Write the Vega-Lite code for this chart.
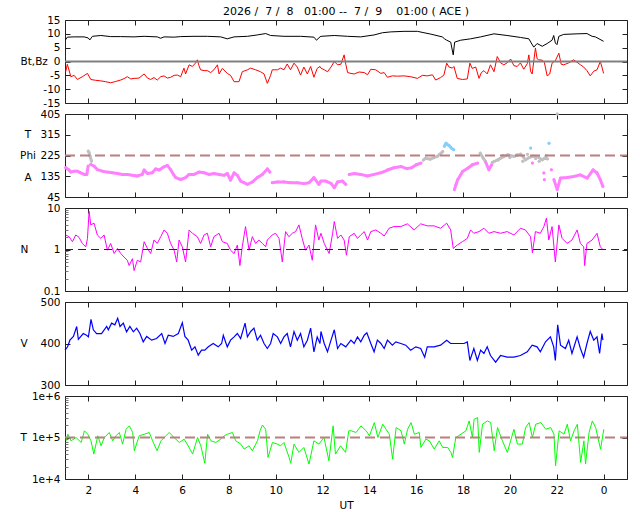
{
"$schema":"https://vega.github.io/schema/vega-lite/v6.json",
"background":"white",
"padding":{"left":19,"top":5,"right":5,"bottom":5},
"spacing":11,
"bounds":"flush",
"resolve":{"scale":{"color":"independent"}},
"config":{
 "view":{"stroke":"#222","strokeWidth":1},
 "font":"DejaVu Sans",
 "axis":{"domain":false,"grid":false,"tickColor":"#222","tickSize":5,"offset":-5,"labelPadding":5,"labelFont":"DejaVu Sans","labelFontSize":10.5,"labelColor":"#000","labelFlush":false,"labelOverlap":false,"labelBound":false,"titleFont":"DejaVu Sans","titleFontSize":10.5,"titleFontWeight":"normal","titleColor":"#000"},
 "axisLeft":{"titleAngle":0,"titleAlign":"left","titleBaseline":"middle","titleX":-50,"titleY":41.5}
},
"datasets":{
"one":[{}],
"b":[
{"h":1.03,"v":7.9,"s":"t"},{"h":1.10,"v":8.8,"s":"t"},{"h":1.39,"v":8.9,"s":"t"},{"h":1.82,"v":8.9,"s":"t"},{"h":1.99,"v":8.5,"s":"t"},{"h":2.06,"v":7.8,"s":"t"},{"h":2.17,"v":9.1,"s":"t"},{"h":2.53,"v":9.4,"s":"t"},{"h":2.95,"v":9.0,"s":"t"},{"h":3.38,"v":9.0,"s":"t"},{"h":3.95,"v":8.9,"s":"t"},{"h":4.38,"v":9.1,"s":"t"},{"h":4.94,"v":8.9,"s":"t"},{"h":5.09,"v":8.4,"s":"t"},{"h":5.23,"v":8.9,"s":"t"},{"h":5.66,"v":8.8,"s":"t"},{"h":5.94,"v":9.0,"s":"t"},{"h":6.51,"v":9.1,"s":"t"},{"h":7.08,"v":9.1,"s":"t"},{"h":7.65,"v":8.9,"s":"t"},{"h":7.93,"v":8.2,"s":"t"},{"h":8.22,"v":8.9,"s":"t"},{"h":8.79,"v":9.1,"s":"t"},{"h":9.21,"v":9.6,"s":"t"},{"h":9.57,"v":10.1,"s":"t"},{"h":9.78,"v":9.4,"s":"t"},{"h":10.35,"v":9.1,"s":"t"},{"h":11.06,"v":9.1,"s":"t"},{"h":11.63,"v":8.8,"s":"t"},{"h":11.74,"v":7.7,"s":"t"},{"h":11.89,"v":8.9,"s":"t"},{"h":11.93,"v":9.1,"s":"t"},{"h":12.50,"v":9.4,"s":"t"},{"h":13.07,"v":9.1,"s":"t"},{"h":13.63,"v":8.9,"s":"t"},{"h":14.20,"v":9.6,"s":"t"},{"h":14.56,"v":10.4,"s":"t"},{"h":14.91,"v":10.7,"s":"t"},{"h":15.48,"v":10.9,"s":"t"},{"h":16.05,"v":10.9,"s":"t"},{"h":16.33,"v":10.4,"s":"t"},{"h":16.62,"v":9.9,"s":"t"},{"h":17.11,"v":8.9,"s":"t"},{"h":17.21,"v":8.2,"s":"t"},{"h":17.30,"v":7.7,"s":"t"},{"h":17.47,"v":7.0,"s":"t"},{"h":17.58,"v":2.4,"s":"t"},{"h":17.64,"v":7.0,"s":"t"},{"h":17.90,"v":7.7,"s":"t"},{"h":18.32,"v":8.2,"s":"t"},{"h":18.75,"v":8.9,"s":"t"},{"h":19.32,"v":10.0,"s":"t"},{"h":19.88,"v":9.4,"s":"t"},{"h":20.45,"v":8.7,"s":"t"},{"h":20.81,"v":8.2,"s":"t"},{"h":20.91,"v":6.7,"s":"t"},{"h":21.02,"v":5.2,"s":"t"},{"h":21.16,"v":6.5,"s":"t"},{"h":21.38,"v":5.5,"s":"t"},{"h":21.59,"v":6.5,"s":"t"},{"h":21.80,"v":7.7,"s":"t"},{"h":21.87,"v":9.4,"s":"t"},{"h":21.94,"v":6.7,"s":"t"},{"h":22.01,"v":6.1,"s":"t"},{"h":22.09,"v":9.1,"s":"t"},{"h":22.30,"v":9.8,"s":"t"},{"h":22.87,"v":10.0,"s":"t"},{"h":23.29,"v":10.1,"s":"t"},{"h":23.51,"v":9.1,"s":"t"},{"h":23.65,"v":8.9,"s":"t"},{"h":24.00,"v":7.3,"s":"t"},
{"h":1.03,"v":-3.7,"s":"z"},{"h":1.10,"v":-1.0,"s":"z"},{"h":1.25,"v":-5.5,"s":"z"},{"h":1.39,"v":-5.0,"s":"z"},{"h":1.53,"v":-6.5,"s":"z"},{"h":1.74,"v":-5.5,"s":"z"},{"h":1.96,"v":-4.3,"s":"z"},{"h":2.10,"v":-6.5,"s":"z"},{"h":2.31,"v":-6.8,"s":"z"},{"h":2.53,"v":-7.0,"s":"z"},{"h":2.74,"v":-7.3,"s":"z"},{"h":2.95,"v":-7.7,"s":"z"},{"h":3.17,"v":-7.2,"s":"z"},{"h":3.38,"v":-6.7,"s":"z"},{"h":3.52,"v":-6.2,"s":"z"},{"h":3.66,"v":-5.5,"s":"z"},{"h":3.81,"v":-6.3,"s":"z"},{"h":3.95,"v":-6.1,"s":"z"},{"h":4.16,"v":-6.0,"s":"z"},{"h":4.38,"v":-4.5,"s":"z"},{"h":4.52,"v":-6.0,"s":"z"},{"h":4.66,"v":-6.5,"s":"z"},{"h":4.80,"v":-5.8,"s":"z"},{"h":4.94,"v":-6.7,"s":"z"},{"h":5.09,"v":-5.5,"s":"z"},{"h":5.23,"v":-5.2,"s":"z"},{"h":5.37,"v":-6.0,"s":"z"},{"h":5.51,"v":-5.7,"s":"z"},{"h":5.66,"v":-5.0,"s":"z"},{"h":5.80,"v":-4.9,"s":"z"},{"h":5.94,"v":-5.5,"s":"z"},{"h":6.08,"v":-2.4,"s":"z"},{"h":6.15,"v":-4.5,"s":"z"},{"h":6.30,"v":-1.2,"s":"z"},{"h":6.44,"v":-1.8,"s":"z"},{"h":6.58,"v":-0.5,"s":"z"},{"h":6.65,"v":0.6,"s":"z"},{"h":6.72,"v":-1.5,"s":"z"},{"h":6.79,"v":-3.0,"s":"z"},{"h":6.94,"v":-3.3,"s":"z"},{"h":7.08,"v":-3.3,"s":"z"},{"h":7.22,"v":-4.0,"s":"z"},{"h":7.36,"v":-3.0,"s":"z"},{"h":7.51,"v":-1.2,"s":"z"},{"h":7.58,"v":-4.5,"s":"z"},{"h":7.72,"v":-2.5,"s":"z"},{"h":7.93,"v":-4.3,"s":"z"},{"h":8.07,"v":-5.0,"s":"z"},{"h":8.22,"v":-7.3,"s":"z"},{"h":8.43,"v":-7.3,"s":"z"},{"h":8.57,"v":-3.7,"s":"z"},{"h":8.79,"v":-3.0,"s":"z"},{"h":8.93,"v":-2.4,"s":"z"},{"h":9.14,"v":-3.0,"s":"z"},{"h":9.35,"v":-3.7,"s":"z"},{"h":9.50,"v":-4.5,"s":"z"},{"h":9.64,"v":-7.9,"s":"z"},{"h":9.78,"v":-5.0,"s":"z"},{"h":9.85,"v":-3.0,"s":"z"},{"h":10.07,"v":-3.0,"s":"z"},{"h":10.21,"v":-2.4,"s":"z"},{"h":10.35,"v":-3.0,"s":"z"},{"h":10.49,"v":-0.9,"s":"z"},{"h":10.63,"v":-3.0,"s":"z"},{"h":10.78,"v":-0.6,"s":"z"},{"h":10.92,"v":-2.0,"s":"z"},{"h":11.06,"v":-4.9,"s":"z"},{"h":11.20,"v":-2.0,"s":"z"},{"h":11.35,"v":-4.5,"s":"z"},{"h":11.49,"v":-1.8,"s":"z"},{"h":11.63,"v":-5.7,"s":"z"},{"h":11.77,"v":-2.5,"s":"z"},{"h":11.89,"v":-1.8,"s":"z"},{"h":11.93,"v":-2.4,"s":"z"},{"h":12.07,"v":-3.0,"s":"z"},{"h":12.21,"v":-3.7,"s":"z"},{"h":12.36,"v":-2.0,"s":"z"},{"h":12.50,"v":0.0,"s":"z"},{"h":12.64,"v":-1.2,"s":"z"},{"h":12.78,"v":-1.0,"s":"z"},{"h":12.92,"v":2.4,"s":"z"},{"h":12.99,"v":-1.0,"s":"z"},{"h":13.07,"v":-4.0,"s":"z"},{"h":13.21,"v":-4.3,"s":"z"},{"h":13.35,"v":-4.5,"s":"z"},{"h":13.56,"v":-3.8,"s":"z"},{"h":13.78,"v":-4.0,"s":"z"},{"h":13.92,"v":-4.8,"s":"z"},{"h":14.06,"v":-2.8,"s":"z"},{"h":14.27,"v":-3.0,"s":"z"},{"h":14.49,"v":-4.3,"s":"z"},{"h":14.63,"v":-4.0,"s":"z"},{"h":14.77,"v":-5.7,"s":"z"},{"h":14.98,"v":-5.2,"s":"z"},{"h":15.20,"v":-5.3,"s":"z"},{"h":15.48,"v":-5.2,"s":"z"},{"h":15.76,"v":-5.5,"s":"z"},{"h":16.05,"v":-6.1,"s":"z"},{"h":16.26,"v":-5.0,"s":"z"},{"h":16.47,"v":-5.2,"s":"z"},{"h":16.69,"v":-4.8,"s":"z"},{"h":16.83,"v":-6.7,"s":"z"},{"h":17.04,"v":-5.8,"s":"z"},{"h":17.18,"v":-4.9,"s":"z"},{"h":17.30,"v":-0.6,"s":"z"},{"h":17.40,"v":-2.0,"s":"z"},{"h":17.54,"v":-2.4,"s":"z"},{"h":17.61,"v":-1.8,"s":"z"},{"h":17.75,"v":-6.1,"s":"z"},{"h":17.97,"v":-6.5,"s":"z"},{"h":18.18,"v":-6.3,"s":"z"},{"h":18.29,"v":-0.6,"s":"z"},{"h":18.39,"v":-2.5,"s":"z"},{"h":18.54,"v":-2.0,"s":"z"},{"h":18.68,"v":-6.1,"s":"z"},{"h":18.78,"v":-4.0,"s":"z"},{"h":18.89,"v":-3.3,"s":"z"},{"h":19.03,"v":-4.5,"s":"z"},{"h":19.17,"v":-1.2,"s":"z"},{"h":19.32,"v":-3.7,"s":"z"},{"h":19.46,"v":1.8,"s":"z"},{"h":19.60,"v":-0.5,"s":"z"},{"h":19.74,"v":-1.2,"s":"z"},{"h":19.88,"v":-0.5,"s":"z"},{"h":20.03,"v":0.9,"s":"z"},{"h":20.17,"v":-1.5,"s":"z"},{"h":20.31,"v":-1.8,"s":"z"},{"h":20.45,"v":-0.5,"s":"z"},{"h":20.59,"v":-2.8,"s":"z"},{"h":20.74,"v":-0.8,"s":"z"},{"h":20.81,"v":2.4,"s":"z"},{"h":20.88,"v":-3.5,"s":"z"},{"h":20.95,"v":-4.5,"s":"z"},{"h":21.09,"v":4.9,"s":"z"},{"h":21.16,"v":1.0,"s":"z"},{"h":21.23,"v":0.6,"s":"z"},{"h":21.38,"v":0.5,"s":"z"},{"h":21.47,"v":-0.3,"s":"z"},{"h":21.59,"v":-5.2,"s":"z"},{"h":21.70,"v":-4.5,"s":"z"},{"h":21.80,"v":-0.6,"s":"z"},{"h":21.94,"v":0.3,"s":"z"},{"h":22.09,"v":3.0,"s":"z"},{"h":22.19,"v":-1.0,"s":"z"},{"h":22.30,"v":-1.2,"s":"z"},{"h":22.51,"v":-0.5,"s":"z"},{"h":22.72,"v":0.6,"s":"z"},{"h":22.87,"v":-0.3,"s":"z"},{"h":23.01,"v":-1.2,"s":"z"},{"h":23.15,"v":-2.0,"s":"z"},{"h":23.29,"v":-3.3,"s":"z"},{"h":23.43,"v":-5.2,"s":"z"},{"h":23.58,"v":-3.5,"s":"z"},{"h":23.72,"v":-3.0,"s":"z"},{"h":23.86,"v":0.0,"s":"z"},{"h":23.93,"v":-2.0,"s":"z"},{"h":24.00,"v":-4.3,"s":"z"}
],
"phi":[
{"h":1.03,"p":172,"c":"p","g":"a"},{"h":1.17,"p":162,"c":"p","g":"a"},{"h":1.25,"p":153,"c":"p","g":"a"},{"h":1.39,"p":157,"c":"p","g":"a"},{"h":1.53,"p":157,"c":"p","g":"a"},{"h":1.67,"p":150,"c":"p","g":"a"},{"h":1.82,"p":143,"c":"p","g":"a"},{"h":1.93,"p":143,"c":"p","g":"a"},{"h":1.99,"p":179,"c":"p","g":"a"},
{"h":1.99,"p":244,"c":"g","g":"b"},{"h":2.03,"p":237,"c":"g","g":"b"},{"h":2.07,"p":222,"c":"g","g":"b"},{"h":2.13,"p":200,"c":"g","g":"b"},
{"h":2.10,"p":186,"c":"p","g":"c"},{"h":2.24,"p":179,"c":"p","g":"c"},{"h":2.38,"p":164,"c":"p","g":"c"},{"h":2.60,"p":157,"c":"p","g":"c"},{"h":2.81,"p":153,"c":"p","g":"c"},{"h":3.02,"p":150,"c":"p","g":"c"},{"h":3.24,"p":147,"c":"p","g":"c"},{"h":3.45,"p":143,"c":"p","g":"c"},{"h":3.66,"p":143,"c":"p","g":"c"},{"h":3.88,"p":139,"c":"p","g":"c"},{"h":4.09,"p":136,"c":"p","g":"c"},{"h":4.30,"p":143,"c":"p","g":"c"},{"h":4.38,"p":162,"c":"p","g":"c"},{"h":4.52,"p":147,"c":"p","g":"c"},{"h":4.73,"p":150,"c":"p","g":"c"},{"h":4.87,"p":167,"c":"p","g":"c"},{"h":5.02,"p":162,"c":"p","g":"c"},{"h":5.23,"p":176,"c":"p","g":"c"},{"h":5.37,"p":182,"c":"p","g":"c"},{"h":5.51,"p":164,"c":"p","g":"c"},{"h":5.63,"p":143,"c":"p","g":"c"},{"h":5.73,"p":129,"c":"p","g":"c"},{"h":5.94,"p":121,"c":"p","g":"c"},{"h":6.15,"p":129,"c":"p","g":"c"},{"h":6.30,"p":143,"c":"p","g":"c"},{"h":6.51,"p":143,"c":"p","g":"c"},{"h":6.72,"p":153,"c":"p","g":"c"},{"h":6.94,"p":150,"c":"p","g":"c"},{"h":7.15,"p":143,"c":"p","g":"c"},{"h":7.36,"p":147,"c":"p","g":"c"},{"h":7.58,"p":143,"c":"p","g":"c"},{"h":7.79,"p":139,"c":"p","g":"c"},{"h":7.93,"p":147,"c":"p","g":"c"},{"h":8.07,"p":118,"c":"p","g":"c"},{"h":8.22,"p":150,"c":"p","g":"c"},{"h":8.36,"p":139,"c":"p","g":"c"},{"h":8.50,"p":114,"c":"p","g":"c"},{"h":8.64,"p":107,"c":"p","g":"c"},{"h":8.79,"p":100,"c":"p","g":"c"},{"h":9.00,"p":110,"c":"p","g":"c"},{"h":9.21,"p":129,"c":"p","g":"c"},{"h":9.43,"p":143,"c":"p","g":"c"},{"h":9.64,"p":167,"c":"p","g":"c"},{"h":9.75,"p":153,"c":"p","g":"c"},
{"h":9.85,"p":107,"c":"p","g":"d"},{"h":10.07,"p":110,"c":"p","g":"d"},{"h":10.35,"p":110,"c":"p","g":"d"},{"h":10.63,"p":107,"c":"p","g":"d"},{"h":10.92,"p":107,"c":"p","g":"d"},{"h":11.20,"p":103,"c":"p","g":"d"},{"h":11.42,"p":107,"c":"p","g":"d"},{"h":11.63,"p":129,"c":"p","g":"d"},{"h":11.84,"p":100,"c":"p","g":"d"},{"h":11.93,"p":114,"c":"p","g":"d"},{"h":12.14,"p":114,"c":"p","g":"d"},{"h":12.36,"p":104,"c":"p","g":"d"},{"h":12.50,"p":85,"c":"p","g":"d"},{"h":12.64,"p":110,"c":"p","g":"d"},{"h":12.85,"p":114,"c":"p","g":"d"},{"h":12.99,"p":100,"c":"p","g":"d"},
{"h":13.14,"p":143,"c":"p","g":"e"},{"h":13.35,"p":147,"c":"p","g":"e"},{"h":13.63,"p":143,"c":"p","g":"e"},{"h":13.92,"p":136,"c":"p","g":"e"},{"h":14.20,"p":143,"c":"p","g":"e"},{"h":14.49,"p":150,"c":"p","g":"e"},{"h":14.77,"p":162,"c":"p","g":"e"},{"h":15.05,"p":172,"c":"p","g":"e"},{"h":15.36,"p":177,"c":"p","g":"e"},{"h":15.60,"p":168,"c":"p","g":"e"},{"h":15.80,"p":172,"c":"p","g":"e"},{"h":16.00,"p":185,"c":"p","g":"e"},{"h":16.20,"p":192,"c":"p","g":"e"},
{"h":16.30,"p":205,"c":"g","g":"f"},{"h":16.40,"p":213,"c":"g","g":"f"},{"h":16.60,"p":209,"c":"g","g":"f"},{"h":16.90,"p":221,"c":"g","g":"f"},{"h":17.00,"p":230,"c":"g","g":"f"},{"h":17.13,"p":242,"c":"g","g":"f"},
{"h":17.20,"p":265,"c":"b","g":"h"},{"h":17.27,"p":278,"c":"b","g":"h"},{"h":17.40,"p":268,"c":"b","g":"h"},{"h":17.50,"p":257,"c":"b","g":"h"},{"h":17.60,"p":250,"c":"b","g":"h"},
{"h":17.63,"p":77,"c":"p","g":"i"},{"h":17.70,"p":100,"c":"p","g":"i"},{"h":17.77,"p":120,"c":"p","g":"i"},{"h":17.98,"p":156,"c":"p","g":"i"},{"h":18.20,"p":170,"c":"p","g":"i"},{"h":18.40,"p":185,"c":"p","g":"i"},{"h":18.62,"p":192,"c":"p","g":"i"},
{"h":18.73,"p":235,"c":"g","g":"j"},{"h":18.85,"p":215,"c":"g","g":"j"},{"h":18.95,"p":200,"c":"g","g":"j"},
{"h":18.97,"p":195,"c":"p","g":"k"},{"h":19.10,"p":163,"c":"p","g":"k"},{"h":19.22,"p":185,"c":"p","g":"k"},
{"h":19.25,"p":195,"c":"g","g":"l"},{"h":19.33,"p":199,"c":"g","g":"l"},{"h":19.60,"p":213,"c":"g","g":"l"},{"h":19.90,"p":228,"c":"g","g":"l"},{"h":20.18,"p":221,"c":"g","g":"l"},{"h":20.46,"p":231,"c":"g","g":"l"},{"h":20.67,"p":206,"c":"g","g":"l"},{"h":20.80,"p":215,"c":"g","g":"l"},{"h":21.00,"p":222,"c":"g","g":"l"},{"h":21.17,"p":221,"c":"g","g":"l"},{"h":21.38,"p":206,"c":"g","g":"l"},{"h":21.50,"p":215,"c":"g","g":"l"},{"h":21.60,"p":210,"c":"g","g":"l"},
{"h":19.50,"p":205,"c":"g","g":"x1"},{"h":19.70,"p":225,"c":"g","g":"x2"},{"h":20.00,"p":216,"c":"g","g":"x3"},{"h":20.30,"p":228,"c":"g","g":"x4"},{"h":20.55,"p":200,"c":"g","g":"x5"},{"h":20.75,"p":230,"c":"g","g":"x6"},{"h":21.10,"p":212,"c":"g","g":"x7"},{"h":21.25,"p":200,"c":"g","g":"x8"},{"h":21.55,"p":225,"c":"g","g":"x9"},
{"h":20.89,"p":257,"c":"b","g":"y1"},{"h":21.67,"p":278,"c":"b","g":"y2"},{"h":22.02,"p":405,"c":"g","g":"y3"},{"h":20.96,"p":192,"c":"p","g":"y4"},{"h":21.45,"p":149,"c":"p","g":"y5"},{"h":21.47,"p":120,"c":"p","g":"y6"},{"h":21.77,"p":163,"c":"p","g":"y7"},
{"h":21.88,"p":120,"c":"p","g":"m"},{"h":22.02,"p":77,"c":"p","g":"m"},{"h":22.16,"p":127,"c":"p","g":"m"},{"h":22.44,"p":130,"c":"p","g":"m"},{"h":22.73,"p":134,"c":"p","g":"m"},{"h":23.00,"p":141,"c":"p","g":"m"},{"h":23.30,"p":127,"c":"p","g":"m"},{"h":23.55,"p":163,"c":"p","g":"m"},{"h":23.72,"p":149,"c":"p","g":"m"},{"h":23.86,"p":120,"c":"p","g":"m"},{"h":23.97,"p":91,"c":"p","g":"m"}
],
"n":[
{"h":1.03,"n":2.24},{"h":1.17,"n":2.04},{"h":1.32,"n":1.54},{"h":1.46,"n":2.24},{"h":1.60,"n":1.96},{"h":1.74,"n":1.40},{"h":1.89,"n":1.16},{"h":1.96,"n":1.85},{"h":2.03,"n":8.30},{"h":2.10,"n":3.92},{"h":2.24,"n":4.31},{"h":2.38,"n":2.24},{"h":2.53,"n":1.85},{"h":2.67,"n":2.24},{"h":2.81,"n":0.96},{"h":2.95,"n":1.40},{"h":3.10,"n":0.80},{"h":3.24,"n":1.06},{"h":3.38,"n":0.80},{"h":3.52,"n":0.66},{"h":3.66,"n":0.55},{"h":3.74,"n":0.41},{"h":3.88,"n":0.60},{"h":3.95,"n":0.31},{"h":4.09,"n":0.55},{"h":4.23,"n":0.50},{"h":4.38,"n":1.54},{"h":4.52,"n":1.06},{"h":4.66,"n":0.80},{"h":4.80,"n":1.69},{"h":4.94,"n":1.40},{"h":5.09,"n":2.04},{"h":5.23,"n":2.96},{"h":5.37,"n":2.46},{"h":5.51,"n":1.40},{"h":5.66,"n":0.96},{"h":5.77,"n":0.50},{"h":5.87,"n":1.69},{"h":6.01,"n":1.16},{"h":6.15,"n":0.50},{"h":6.30,"n":2.96},{"h":6.44,"n":2.46},{"h":6.65,"n":2.04},{"h":6.79,"n":1.40},{"h":6.94,"n":2.24},{"h":7.08,"n":2.46},{"h":7.22,"n":1.16},{"h":7.36,"n":2.04},{"h":7.58,"n":2.46},{"h":7.72,"n":1.54},{"h":7.93,"n":1.40},{"h":8.07,"n":0.96},{"h":8.22,"n":0.80},{"h":8.36,"n":1.28},{"h":8.47,"n":0.41},{"h":8.57,"n":1.16},{"h":8.71,"n":3.57},{"h":8.86,"n":0.96},{"h":9.00,"n":2.04},{"h":9.14,"n":1.40},{"h":9.28,"n":1.69},{"h":9.43,"n":1.40},{"h":9.57,"n":1.16},{"h":9.64,"n":1.69},{"h":9.85,"n":2.24},{"h":9.99,"n":2.46},{"h":10.14,"n":1.85},{"h":10.28,"n":0.50},{"h":10.42,"n":2.70},{"h":10.56,"n":2.04},{"h":10.71,"n":2.46},{"h":10.85,"n":2.70},{"h":10.99,"n":3.92},{"h":11.13,"n":1.85},{"h":11.27,"n":0.96},{"h":11.42,"n":1.28},{"h":11.56,"n":0.55},{"h":11.70,"n":3.92},{"h":11.84,"n":1.69},{"h":11.93,"n":2.46},{"h":12.07,"n":1.40},{"h":12.21,"n":0.96},{"h":12.28,"n":0.80},{"h":12.43,"n":2.46},{"h":12.50,"n":4.73},{"h":12.64,"n":1.85},{"h":12.78,"n":2.24},{"h":12.92,"n":1.69},{"h":13.02,"n":0.73},{"h":13.14,"n":2.04},{"h":13.35,"n":2.46},{"h":13.49,"n":1.85},{"h":13.63,"n":2.24},{"h":13.78,"n":2.70},{"h":13.92,"n":1.69},{"h":14.06,"n":2.70},{"h":14.27,"n":2.96},{"h":14.49,"n":2.46},{"h":14.63,"n":2.11},{"h":14.84,"n":3.25},{"h":15.05,"n":3.57},{"h":15.34,"n":3.57},{"h":15.62,"n":4.15},{"h":15.91,"n":2.96},{"h":16.19,"n":4.15},{"h":16.47,"n":3.71},{"h":16.76,"n":3.71},{"h":17.04,"n":3.25},{"h":17.30,"n":4.31},{"h":17.47,"n":2.96},{"h":17.58,"n":1.06},{"h":17.75,"n":1.28},{"h":17.97,"n":1.54},{"h":18.18,"n":1.85},{"h":18.32,"n":2.96},{"h":18.46,"n":2.46},{"h":18.68,"n":2.70},{"h":18.89,"n":3.25},{"h":19.10,"n":2.46},{"h":19.32,"n":2.70},{"h":19.60,"n":2.46},{"h":19.88,"n":2.70},{"h":20.17,"n":2.24},{"h":20.45,"n":3.25},{"h":20.66,"n":2.96},{"h":20.88,"n":2.04},{"h":20.96,"n":0.83},{"h":21.09,"n":2.70},{"h":21.30,"n":2.46},{"h":21.45,"n":3.57},{"h":21.56,"n":5.70},{"h":21.66,"n":1.69},{"h":21.80,"n":3.57},{"h":21.94,"n":0.50},{"h":22.09,"n":3.92},{"h":22.23,"n":1.85},{"h":22.44,"n":1.40},{"h":22.65,"n":1.69},{"h":22.87,"n":2.96},{"h":23.01,"n":1.40},{"h":23.15,"n":1.16},{"h":23.19,"n":0.41},{"h":23.29,"n":1.40},{"h":23.51,"n":1.69},{"h":23.72,"n":2.46},{"h":23.86,"n":1.16},{"h":23.97,"n":1.00}
],
"v":[
{"h":1.00,"v":384},{"h":1.11,"v":392},{"h":1.21,"v":408},{"h":1.36,"v":417},{"h":1.50,"v":441},{"h":1.57,"v":410},{"h":1.78,"v":424},{"h":1.92,"v":420},{"h":2.00,"v":416},{"h":2.11,"v":458},{"h":2.21,"v":433},{"h":2.35,"v":424},{"h":2.56,"v":424},{"h":2.78,"v":441},{"h":2.85,"v":433},{"h":2.99,"v":449},{"h":3.13,"v":445},{"h":3.25,"v":461},{"h":3.35,"v":441},{"h":3.49,"v":449},{"h":3.63,"v":428},{"h":3.77,"v":441},{"h":3.92,"v":428},{"h":4.06,"v":437},{"h":4.20,"v":424},{"h":4.34,"v":404},{"h":4.49,"v":417},{"h":4.70,"v":408},{"h":4.91,"v":412},{"h":5.13,"v":424},{"h":5.27,"v":400},{"h":5.41,"v":420},{"h":5.62,"v":417},{"h":5.84,"v":424},{"h":6.01,"v":450},{"h":6.12,"v":417},{"h":6.26,"v":408},{"h":6.41,"v":384},{"h":6.55,"v":392},{"h":6.69,"v":372},{"h":6.83,"v":384},{"h":6.97,"v":384},{"h":7.12,"v":392},{"h":7.33,"v":400},{"h":7.54,"v":392},{"h":7.69,"v":400},{"h":7.76,"v":420},{"h":7.93,"v":392},{"h":8.07,"v":408},{"h":8.22,"v":416},{"h":8.36,"v":424},{"h":8.50,"v":412},{"h":8.69,"v":449},{"h":8.79,"v":416},{"h":8.93,"v":429},{"h":9.07,"v":437},{"h":9.21,"v":408},{"h":9.35,"v":420},{"h":9.50,"v":400},{"h":9.64,"v":388},{"h":9.78,"v":400},{"h":9.89,"v":424},{"h":10.07,"v":416},{"h":10.21,"v":400},{"h":10.35,"v":416},{"h":10.49,"v":424},{"h":10.63,"v":392},{"h":10.78,"v":429},{"h":10.92,"v":408},{"h":11.06,"v":424},{"h":11.20,"v":392},{"h":11.35,"v":408},{"h":11.49,"v":437},{"h":11.63,"v":380},{"h":11.77,"v":416},{"h":11.89,"v":400},{"h":11.93,"v":429},{"h":12.07,"v":400},{"h":12.21,"v":380},{"h":12.36,"v":408},{"h":12.50,"v":433},{"h":12.64,"v":388},{"h":12.78,"v":400},{"h":12.99,"v":392},{"h":13.21,"v":408},{"h":13.35,"v":400},{"h":13.49,"v":416},{"h":13.63,"v":404},{"h":13.78,"v":420},{"h":13.89,"v":426},{"h":14.06,"v":400},{"h":14.20,"v":380},{"h":14.34,"v":408},{"h":14.49,"v":400},{"h":14.63,"v":388},{"h":14.77,"v":408},{"h":14.98,"v":396},{"h":15.13,"v":404},{"h":15.34,"v":400},{"h":15.55,"v":396},{"h":15.76,"v":384},{"h":15.98,"v":392},{"h":16.19,"v":388},{"h":16.36,"v":367},{"h":16.47,"v":392},{"h":16.76,"v":392},{"h":17.04,"v":396},{"h":17.30,"v":408},{"h":17.47,"v":400},{"h":17.75,"v":400},{"h":18.04,"v":400},{"h":18.18,"v":404},{"h":18.29,"v":359},{"h":18.46,"v":388},{"h":18.61,"v":359},{"h":18.75,"v":384},{"h":18.89,"v":376},{"h":19.03,"v":392},{"h":19.17,"v":371},{"h":19.39,"v":355},{"h":19.60,"v":371},{"h":19.88,"v":367},{"h":20.17,"v":367},{"h":20.45,"v":371},{"h":20.74,"v":380},{"h":20.95,"v":396},{"h":21.16,"v":392},{"h":21.30,"v":380},{"h":21.52,"v":404},{"h":21.73,"v":416},{"h":21.87,"v":392},{"h":21.94,"v":359},{"h":22.04,"v":445},{"h":22.16,"v":396},{"h":22.37,"v":388},{"h":22.51,"v":408},{"h":22.65,"v":376},{"h":22.87,"v":416},{"h":23.01,"v":388},{"h":23.15,"v":367},{"h":23.29,"v":400},{"h":23.43,"v":429},{"h":23.58,"v":408},{"h":23.72,"v":416},{"h":23.83,"v":376},{"h":23.93,"v":424},{"h":23.97,"v":408}
],
"t":[
{"h":1.05,"t":83200},{"h":1.12,"t":120000},{"h":1.26,"t":83200},{"h":1.47,"t":100000},{"h":1.69,"t":75900},{"h":1.83,"t":145000},{"h":1.97,"t":120000},{"h":2.11,"t":83200},{"h":2.23,"t":39800},{"h":2.40,"t":110000},{"h":2.54,"t":63100},{"h":2.68,"t":100000},{"h":2.89,"t":132000},{"h":3.04,"t":83200},{"h":3.18,"t":110000},{"h":3.32,"t":132000},{"h":3.46,"t":69200},{"h":3.61,"t":158000},{"h":3.75,"t":191000},{"h":3.89,"t":132000},{"h":3.96,"t":47900},{"h":4.17,"t":110000},{"h":4.39,"t":120000},{"h":4.60,"t":132000},{"h":4.74,"t":83200},{"h":4.93,"t":47900},{"h":5.10,"t":83200},{"h":5.31,"t":110000},{"h":5.45,"t":132000},{"h":5.66,"t":100000},{"h":5.88,"t":75900},{"h":6.09,"t":91200},{"h":6.30,"t":57500},{"h":6.45,"t":39800},{"h":6.66,"t":100000},{"h":6.80,"t":63100},{"h":6.97,"t":24000},{"h":7.09,"t":120000},{"h":7.23,"t":83200},{"h":7.44,"t":75900},{"h":7.65,"t":91200},{"h":7.80,"t":110000},{"h":7.94,"t":120000},{"h":8.15,"t":132000},{"h":8.29,"t":83200},{"h":8.51,"t":69200},{"h":8.65,"t":52500},{"h":8.86,"t":63100},{"h":9.00,"t":47900},{"h":9.22,"t":83200},{"h":9.33,"t":145000},{"h":9.43,"t":200000},{"h":9.57,"t":158000},{"h":9.67,"t":33100},{"h":9.86,"t":75900},{"h":10.07,"t":69200},{"h":10.21,"t":63100},{"h":10.35,"t":75900},{"h":10.57,"t":33100},{"h":10.64,"t":24000},{"h":10.78,"t":69200},{"h":10.99,"t":43700},{"h":11.20,"t":57500},{"h":11.42,"t":22900},{"h":11.63,"t":83200},{"h":11.84,"t":69200},{"h":12.06,"t":100000},{"h":12.27,"t":27500},{"h":12.45,"t":191000},{"h":12.55,"t":39800},{"h":12.77,"t":63100},{"h":12.98,"t":43700},{"h":13.12,"t":145000},{"h":13.22,"t":145000},{"h":13.43,"t":132000},{"h":13.64,"t":191000},{"h":13.86,"t":145000},{"h":14.00,"t":110000},{"h":14.21,"t":229000},{"h":14.36,"t":100000},{"h":14.57,"t":209000},{"h":14.71,"t":158000},{"h":14.85,"t":120000},{"h":14.99,"t":30200},{"h":15.14,"t":174000},{"h":15.35,"t":145000},{"h":15.49,"t":69200},{"h":15.63,"t":158000},{"h":15.78,"t":229000},{"h":15.92,"t":120000},{"h":16.13,"t":132000},{"h":16.20,"t":57500},{"h":16.41,"t":91200},{"h":16.56,"t":83200},{"h":16.77,"t":52500},{"h":16.98,"t":83200},{"h":17.13,"t":57500},{"h":17.34,"t":57500},{"h":17.48,"t":43700},{"h":17.55,"t":33100},{"h":17.69,"t":100000},{"h":17.91,"t":120000},{"h":18.12,"t":145000},{"h":18.26,"t":251000},{"h":18.40,"t":100000},{"h":18.47,"t":275000},{"h":18.62,"t":302000},{"h":18.69,"t":43700},{"h":18.83,"t":209000},{"h":19.04,"t":251000},{"h":19.18,"t":229000},{"h":19.33,"t":47900},{"h":19.47,"t":174000},{"h":19.68,"t":83200},{"h":19.89,"t":43700},{"h":20.03,"t":83200},{"h":20.17,"t":158000},{"h":20.32,"t":69200},{"h":20.53,"t":69200},{"h":20.67,"t":174000},{"h":20.82,"t":229000},{"h":20.96,"t":100000},{"h":21.10,"t":209000},{"h":21.32,"t":229000},{"h":21.53,"t":158000},{"h":21.74,"t":174000},{"h":21.88,"t":120000},{"h":21.95,"t":20900},{"h":22.10,"t":145000},{"h":22.31,"t":120000},{"h":22.45,"t":209000},{"h":22.59,"t":83200},{"h":22.74,"t":145000},{"h":22.88,"t":209000},{"h":23.02,"t":25100},{"h":23.16,"t":83200},{"h":23.23,"t":22900},{"h":23.38,"t":132000},{"h":23.52,"t":251000},{"h":23.66,"t":174000},{"h":23.87,"t":52500},{"h":24.01,"t":158000}
]
},
"vconcat":[
{
 "width":562,"height":83,
 "title":{"text":"2026 /\u00a0 7 /\u00a0 8 \u00a0\u00a001:00 --\u00a0 7 /\u00a0 9 \u00a0\u00a0\u00a001:00 ( ACE )","frame":"group","anchor":"middle","fontSize":11,"fontWeight":"normal","font":"DejaVu Sans","color":"#000","offset":-2},
 "resolve":{"axis":{"x":"independent","y":"independent"}},
 "layer":[
  {"data":{"name":"b"},"mark":{"type":"line","strokeWidth":1},
   "encoding":{
    "x":{"field":"h","type":"quantitative","scale":{"domain":[1,25],"nice":false,"zero":false},"axis":{"orient":"bottom","values":[2,4,6,8,10,12,14,16,18,20,22,24],"labels":false,"title":null}},
    "y":{"field":"v","type":"quantitative","scale":{"domain":[-15,15],"nice":false},"axis":{"orient":"left","values":[-15,-10,-5,0,5,10,15],"labelExpr":"'' + datum.value","title":"Bt,Bz"}},
    "color":{"field":"s","type":"nominal","scale":{"domain":["t","z"],"range":["#000000","#ff0000"]},"legend":null},
    "detail":{"field":"s"}}},
  {"data":{"name":"one"},"mark":{"type":"rule","color":"#808080","strokeWidth":2},
   "encoding":{
    "x":{"datum":1,"type":"quantitative","scale":{"domain":[1,25],"nice":false,"zero":false},"axis":{"orient":"top","values":[2,4,6,8,10,12,14,16,18,20,22,24],"labels":false,"title":null}},
    "x2":{"datum":25},
    "y":{"datum":0,"type":"quantitative","scale":{"domain":[-15,15],"nice":false},"axis":{"orient":"right","values":[-15,-10,-5,0,5,10,15],"labels":false,"title":null}}}}
 ]
},
{
 "width":562,"height":83,
 "resolve":{"axis":{"x":"independent","y":"independent"}},
 "layer":[
  {"data":{"name":"phi"},"mark":{"type":"line","strokeWidth":3,"strokeCap":"round","strokeJoin":"round"},
   "encoding":{
    "x":{"field":"h","type":"quantitative","scale":{"domain":[1,25],"nice":false,"zero":false},"axis":{"orient":"bottom","values":[2,4,6,8,10,12,14,16,18,20,22,24],"labels":false,"title":null}},
    "y":{"field":"p","type":"quantitative","scale":{"domain":[45,405],"nice":false,"zero":false},"axis":{"orient":"left","values":[45,135,225,315,405],"title":["T","Phi","A"],"titleAlign":"center","titleX":-42.5,"titleY":20,"titleLineHeight":21.5}},
    "color":{"field":"c","type":"nominal","scale":{"domain":["p","g","b"],"range":["#ff80ff","#c0c0c0","#87cefa"]},"legend":null},
    "detail":{"field":"g"}}},
  {"data":{"name":"phi"},"mark":{"type":"point","filled":true,"size":8,"opacity":1},
   "encoding":{
    "x":{"field":"h","type":"quantitative","scale":{"domain":[1,25],"nice":false,"zero":false},"axis":null},
    "y":{"field":"p","type":"quantitative","scale":{"domain":[45,405],"nice":false,"zero":false},"axis":null},
    "color":{"field":"c","type":"nominal","scale":{"domain":["p","g","b"],"range":["#ff80ff","#c0c0c0","#87cefa"]},"legend":null}}},
  {"data":{"name":"one"},"mark":{"type":"rule","color":"#bc7f7f","strokeWidth":2,"strokeDash":[10,5]},
   "encoding":{
    "x":{"datum":1,"type":"quantitative","scale":{"domain":[1,25],"nice":false,"zero":false},"axis":{"orient":"top","values":[2,4,6,8,10,12,14,16,18,20,22,24],"labels":false,"title":null}},
    "x2":{"datum":25},
    "y":{"datum":225,"type":"quantitative","scale":{"domain":[45,405],"nice":false,"zero":false},"axis":{"orient":"right","values":[45,135,225,315,405],"labels":false,"title":null}}}}
 ]
},
{
 "width":562,"height":83,
 "resolve":{"axis":{"x":"independent","y":"independent"}},
 "layer":[
  {"data":{"name":"n"},"mark":{"type":"line","strokeWidth":1,"color":"#ff00ff"},
   "encoding":{
    "x":{"field":"h","type":"quantitative","scale":{"domain":[1,25],"nice":false,"zero":false},"axis":{"orient":"bottom","values":[2,4,6,8,10,12,14,16,18,20,22,24],"labels":false,"title":null}},
    "y":{"field":"n","type":"quantitative","scale":{"type":"log","domain":[0.1,10],"nice":false},"axis":{"orient":"left","values":[0.1,1,10],"labelExpr":"datum.value == 0.1 ? '0.1' : datum.value == 1 ? '1' : '10'","title":"N"}}}},
  {"data":{"name":"one"},"mark":{"type":"rule","opacity":0},
   "encoding":{
    "x":{"datum":1,"type":"quantitative","scale":{"domain":[1,25],"nice":false,"zero":false},"axis":null},
    "x2":{"datum":25},
    "y":{"datum":1,"type":"quantitative","scale":{"type":"log","domain":[0.1,10],"nice":false},"axis":{"orient":"left","values":[0.2,0.3,0.4,0.5,0.6,0.7,0.8,0.9,2,3,4,5,6,7,8,9],"labels":false,"tickSize":3,"offset":-3,"tickColor":"#777","title":null}}}},
  {"data":{"name":"one"},"mark":{"type":"rule","color":"#800000","strokeWidth":1.2,"strokeDash":[8,5]},
   "encoding":{
    "x":{"datum":1,"type":"quantitative","scale":{"domain":[1,25],"nice":false,"zero":false},"axis":{"orient":"top","values":[2,4,6,8,10,12,14,16,18,20,22,24],"labels":false,"title":null}},
    "x2":{"datum":25},
    "y":{"datum":1,"type":"quantitative","scale":{"type":"log","domain":[0.1,10],"nice":false},"axis":{"orient":"right","values":[0.1,1,10],"labels":false,"title":null}}}}
 ]
},
{
 "width":562,"height":83,
 "resolve":{"axis":{"x":"independent","y":"independent"}},
 "layer":[
  {"data":{"name":"v"},"mark":{"type":"line","strokeWidth":1.2,"color":"#0000ff"},
   "encoding":{
    "x":{"field":"h","type":"quantitative","scale":{"domain":[1,25],"nice":false,"zero":false},"axis":{"orient":"bottom","values":[2,4,6,8,10,12,14,16,18,20,22,24],"labels":false,"title":null}},
    "y":{"field":"v","type":"quantitative","scale":{"domain":[300,500],"nice":false,"zero":false},"axis":{"orient":"left","values":[300,400,500],"title":"V"}}}},
  {"data":{"name":"one"},"mark":{"type":"rule","opacity":0},
   "encoding":{
    "x":{"datum":1,"type":"quantitative","scale":{"domain":[1,25],"nice":false,"zero":false},"axis":{"orient":"top","values":[2,4,6,8,10,12,14,16,18,20,22,24],"labels":false,"title":null}},
    "x2":{"datum":25},
    "y":{"datum":400,"type":"quantitative","scale":{"domain":[300,500],"nice":false,"zero":false},"axis":{"orient":"right","values":[300,400,500],"labels":false,"title":null}}}}
 ]
},
{
 "width":562,"height":83,
 "resolve":{"axis":{"x":"independent","y":"independent"}},
 "layer":[
  {"data":{"name":"t"},"mark":{"type":"line","strokeWidth":1,"color":"#00ff00"},
   "encoding":{
    "x":{"field":"h","type":"quantitative","scale":{"domain":[1,25],"nice":false,"zero":false},"axis":{"orient":"bottom","values":[2,4,6,8,10,12,14,16,18,20,22,24],"labelExpr":"datum.value == 24 ? '0' : '' + datum.value","labelPadding":6,"title":"UT","titlePadding":5}},
    "y":{"field":"t","type":"quantitative","scale":{"type":"log","domain":[10000,1000000],"nice":false},"axis":{"orient":"left","values":[10000,100000,1000000],"labelExpr":"datum.value == 10000 ? '1e+4' : datum.value == 100000 ? '1e+5' : '1e+6'","title":"T"}}}},
  {"data":{"name":"one"},"mark":{"type":"rule","opacity":0},
   "encoding":{
    "x":{"datum":1,"type":"quantitative","scale":{"domain":[1,25],"nice":false,"zero":false},"axis":null},
    "x2":{"datum":25},
    "y":{"datum":100000,"type":"quantitative","scale":{"type":"log","domain":[10000,1000000],"nice":false},"axis":{"orient":"left","values":[20000,30000,40000,50000,60000,70000,80000,90000,200000,300000,400000,500000,600000,700000,800000,900000],"labels":false,"tickSize":3,"offset":-3,"tickColor":"#777","title":null}}}},
  {"data":{"name":"one"},"mark":{"type":"rule","color":"#bc7f7f","strokeWidth":2,"strokeDash":[10,5]},
   "encoding":{
    "x":{"datum":1,"type":"quantitative","scale":{"domain":[1,25],"nice":false,"zero":false},"axis":{"orient":"top","values":[2,4,6,8,10,12,14,16,18,20,22,24],"labels":false,"title":null}},
    "x2":{"datum":25},
    "y":{"datum":100000,"type":"quantitative","scale":{"type":"log","domain":[10000,1000000],"nice":false},"axis":{"orient":"right","values":[10000,100000,1000000],"labels":false,"title":null}}}}
 ]
}
]
}
